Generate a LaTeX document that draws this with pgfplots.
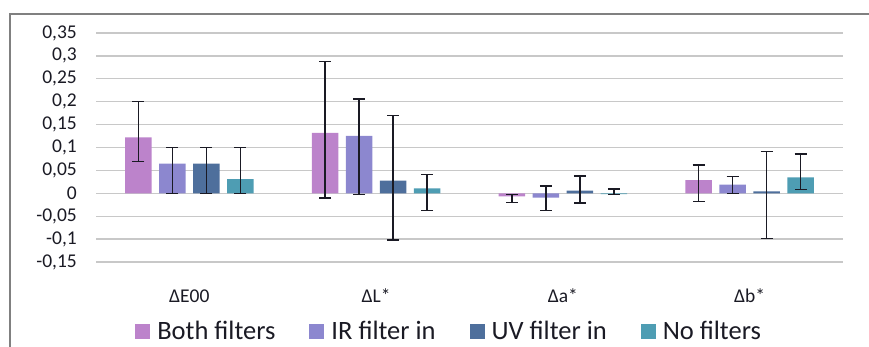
\documentclass[border=0pt]{standalone}
\usepackage{fontspec}
\setmainfont{Carlito}
\usepackage{pgfplots}
\usepackage{pgfplotstable}
\pgfplotsset{compat=1.18}
\definecolor{cBoth}{HTML}{BC83CB}
\definecolor{cIR}{HTML}{8C87CF}
\definecolor{cUV}{HTML}{4E6F9C}
\definecolor{cNo}{HTML}{4E9DB3}
\definecolor{cGrid}{HTML}{C8C8C8}
\definecolor{cText}{HTML}{1A1A24}
\pgfplotstableread{
x y ep em
0 0.122 0.078 0.053
1 0.132 0.156 0.142
2 -0.0066 0.0036 0.014
3 0.029 0.033 0.047
}\both
\pgfplotstableread{
x y ep em
0 0.065 0.035 0.065
1 0.1256 0.080 0.128
2 -0.0096 0.0256 0.0274
3 0.019 0.018 0.019
}\ir
\pgfplotstableread{
x y ep em
0 0.065 0.035 0.065
1 0.0275 0.1425 0.1295
2 0.006 0.032 0.027
3 0.004 0.088 0.103
}\uv
\pgfplotstableread{
x y ep em
0 0.031 0.069 0.031
1 0.0106 0.031 0.0474
2 -0.002 0.0115 0.001
3 0.0345 0.0515 0.0258
}\nof
\begin{document}
\begin{tikzpicture}[x=1pt,y=1pt]
\useasboundingbox (0,0) rectangle (869,347);
\draw[line width=1.2pt, color=gray] (10,-5) -- (10,333) -- (875,333);
\begin{axis}[
  at={(96pt,85pt)}, anchor=south west,
  scale only axis, width=747pt, height=229pt,
  xmin=-0.5, xmax=3.5, ymin=-0.15, ymax=0.35,
  ybar=7.5pt, bar width=26.5pt,
  axis line style={draw=none},
  major tick length=0pt,
  xtick={0,1,2,3},
  xticklabels={ΔE00, ΔL*, Δa*, Δb*},
  ytick={-0.15,-0.1,-0.05,0,0.05,0.1,0.15,0.2,0.25,0.3,0.35},
  yticklabels={{-0,15},{-0,1},{-0,05},{0},{0,05},{0,1},{0,15},{0,2},{0,25},{0,3},{0,35}},
  ymajorgrids, grid style={cGrid, line width=1.3pt},
  yticklabel style={font=\fontsize{19.5}{22}\selectfont, text=cText, anchor=east, inner sep=0pt, xshift=-19pt},
  xticklabel style={font=\fontsize{19.5}{22}\selectfont, text=cText, anchor=center, inner sep=0pt, yshift=-34pt},
  error bars/y dir=both, error bars/y explicit,
  error bars/error bar style={line width=1.3pt, color=cText},
  error bars/error mark options={rotate=90, line width=1.3pt, mark size=6pt, color=cText},
  legend columns=4,
  legend style={at={(0.472,-0.302)}, anchor=center, draw=none, fill=none,
    font=\fontsize{26.5}{29}\selectfont, text=cText,
    nodes={inner sep=1pt},
    /tikz/every odd column/.append style={column sep=6pt},
    /tikz/every even column/.append style={column sep=33pt}},
  legend image code/.code={\fill[#1] (0pt,-7.5pt) rectangle (15pt,7.5pt);},
]
\addplot[fill=cBoth, draw=none] table[x=x, y=y, y error plus=ep, y error minus=em] {\both};
\addplot[fill=cIR, draw=none] table[x=x, y=y, y error plus=ep, y error minus=em] {\ir};
\addplot[fill=cUV, draw=none] table[x=x, y=y, y error plus=ep, y error minus=em] {\uv};
\addplot[fill=cNo, draw=none] table[x=x, y=y, y error plus=ep, y error minus=em] {\nof};
\legend{Both filters, IR filter in, UV filter in, No filters}
\end{axis}
\end{tikzpicture}
\end{document}
